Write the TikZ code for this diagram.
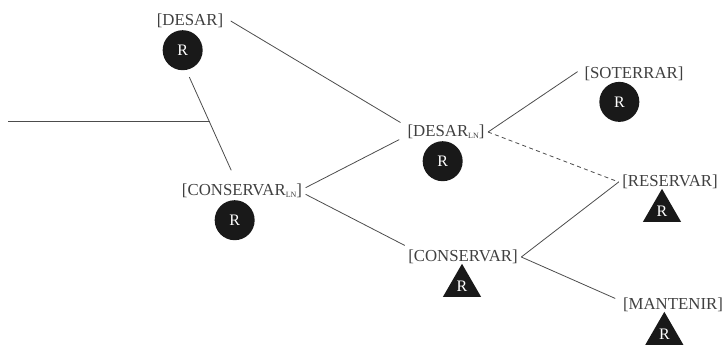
\documentclass[tikz,border=0pt]{standalone}
\usepackage{fontspec}
\setmainfont{Liberation Serif}
\usetikzlibrary{positioning, shapes.geometric}
\newcommand{\lnsub}{\raisebox{-2pt}{\fontsize{6}{6}\selectfont LN}}

\begin{document}
\begin{tikzpicture}[x=0.75pt,y=-0.75pt,
  lexbox/.style={rectangle,text height=9pt,text depth=3pt,inner sep=2.5pt,font=\fontsize{12.6}{14}\selectfont,text=black!75},
  disc/.style={circle,fill=black!90,text=white,minimum size=30pt,inner sep=0pt,font=\fontsize{12}{14}\selectfont},
  peak/.style={regular polygon,regular polygon sides=3,fill=black!90,text=white,minimum size=33pt,inner sep=0pt,font=\fontsize{12}{14}\selectfont},
  conn/.style={draw=black!70,line width=0.6pt}]
  \useasboundingbox (0,0) rectangle (724,347);
  \node(desar)[lexbox] at (190,21) {[DESAR]};
  \node(desarR)[disc,below=-2pt of desar,xshift=-5.5pt]{R};
  \node(conservarln)[lexbox] at (242,191) {[CONSERVAR\lnsub]};
  \node(conservarlnR)[disc,below=-2pt of conservarln,xshift=-5.5pt]{R};
%
  \node(desarln)[lexbox] at (446,132) {[DESAR\lnsub]};
  \node(desarlnR)[disc,below=-2pt of desarln,xshift=-2.5pt]{R};
  \node(conservar)[lexbox] at (463,257) {[CONSERVAR]};
  \node(conservarR)[peak,below=-4pt of conservar,xshift=-0.75pt]{R};
%
  \node(soterrar)[lexbox] at (634,74) {[SOTERRAR]};
  \node(soterrarR)[disc,below=-3pt of soterrar,xshift=-11pt]{R};
  \node(reservar)[lexbox] at (670,182) {[RESERVAR]};
  \node(reservarR)[peak,below=-4pt of reservar,xshift=-6pt]{R};
  \node(mantenir)[lexbox] at (673,305) {[MANTENIR]};
  \node(mantenirR)[peak,below=-4pt of mantenir,xshift=-6.5pt]{R};
%
  \coordinate(tail) at (8,121);
  \coordinate(junction) at (210,121);
%
\draw[conn,shorten >=3pt](desar.east)++(3pt,0)--(desarln.170);
\draw[conn,shorten >=7.5pt](desarR.south)++(5pt,-5pt)--(conservarln.120);
\draw[conn](tail)--(junction);
\draw[conn,shorten >=4pt](conservarln.3)--(desarln.187);
\draw[conn](conservarln.-3)--(conservar.north west);
\draw[conn,shorten >=3pt](desarln.east)--(soterrar.175);
\draw[conn,dashed,dash pattern=on 3pt off 2.5pt](desarln.east)--(reservar.west);
\draw[conn](conservar.east)--(reservar.west);
\draw[conn,shorten >=3.5pt](conservar.east)--(mantenir.175);
\end{tikzpicture}
\end{document}
